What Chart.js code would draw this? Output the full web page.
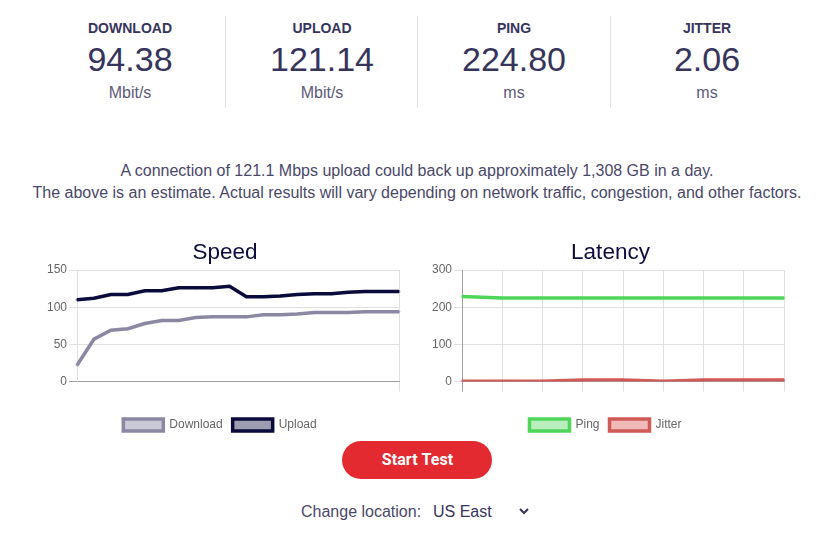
<!DOCTYPE html>
<html>
<head>
<meta charset="utf-8">
<script src="https://cdn.jsdelivr.net/npm/chart.js@4"></script>
<style>
html, body { margin: 0; padding: 0; background: #fff; }
body { width: 840px; height: 534px; position: relative; overflow: hidden; font-family: "Liberation Sans", Arial, sans-serif; color: #36345c; }
.stat { position: absolute; top: 16px; width: 192px; height: 92px; text-align: center; }
.stat + .stat { border-left: 1px solid #e2e2e6; }
.stat .name { position: absolute; left: 0; right: 0; top: 4px; font-size: 14px; font-weight: 700; line-height: 16px; }
.stat .num { position: absolute; left: 0; right: 0; top: 23px; font-size: 34px; line-height: 40px; }
.stat .unit { position: absolute; left: 0; right: 0; top: 68px; font-size: 16px; line-height: 18px; color: #5c5a7a; }
.note { position: absolute; left: 0; width: 834px; text-align: center; font-size: 16px; line-height: 22px; top: 160px; color: #4a4869; }
.box { position: absolute; top: 238px; height: 203px; }
#startBtn { position: absolute; left: 342px; top: 441px; width: 150px; height: 38px; border: 0; border-radius: 19px; background: #e32a30; color: #fff; font: 700 16px Roboto, sans-serif; padding: 0 0 2px 1px; letter-spacing: 0.1px; }
.loc { position: absolute; left: 301px; top: 503px; font-size: 16px; line-height: 18px; color: #4a4869; }
#locSel { position: absolute; left: 429px; top: 500px; width: 103px; height: 22px; border: 0; background: #fff; font: 16px "Liberation Sans", Arial, sans-serif; color: #36345c; padding: 0; }
</style>
</head>
<body>
<div class="stat" style="left:34px"><div class="name">DOWNLOAD</div><div class="num">94.38</div><div class="unit">Mbit/s</div></div>
<div class="stat" style="left:225px"><div class="name">UPLOAD</div><div class="num">121.14</div><div class="unit">Mbit/s</div></div>
<div class="stat" style="left:417px"><div class="name">PING</div><div class="num">224.80</div><div class="unit">ms</div></div>
<div class="stat" style="left:610px"><div class="name">JITTER</div><div class="num">2.06</div><div class="unit">ms</div></div>

<div class="note">A connection of 121.1 Mbps upload could back up approximately 1,308 GB in a day.<br>The above is an estimate. Actual results will vary depending on network traffic, congestion, and other factors.</div>

<div class="box" style="left:36px;width:368px"><canvas id="speedChart" width="368" height="203"></canvas></div>
<div class="box" style="left:422px;width:367px"><canvas id="latencyChart" width="367" height="203"></canvas></div>

<button id="startBtn">Start Test</button>
<div class="loc">Change location:</div>
<select id="locSel"><option>US East</option></select>

<script>
var speedLabels = ["", "", "", "", "", "", "", "", "", "", "", "", "", "", "", "", "", "", "", ""];
var downloadValues = [22, 57, 69, 71, 78, 82, 82, 86, 87, 87, 87, 90, 90, 91, 93, 93, 93, 94, 94, 94];
var uploadValues = [110, 112, 117, 117, 122, 122, 126, 126, 126, 128, 114, 114, 115, 117, 118, 118, 120, 121, 121, 121];
var speedTicks = [0, 50, 100, 150];

var latencyLabels = ["", "", "", "", "", "", "", "", ""];
var pingValues = [229, 225, 225, 225, 225, 225, 225, 225, 225];
var jitterValues = [1, 1, 1, 4, 4, 1, 4, 4, 4];
var latencyTicks = [0, 100, 200, 300];

var gridColor = '#e0e0e0';
var axisColor = '#a0a0a0';

// the title sits a little right of the legend in the original
var shiftTitle = {
    id: 'shiftTitle',
    afterLayout: function (chart) { chart.titleBlock.left += 10; }
};

function makeChart(id, title, labels, sets, yMax, ticks, yWidth, xGrid, yGrid, leftBorder) {
    return new Chart(document.getElementById(id).getContext("2d"), {
        type: 'line',
        data: { labels: labels, datasets: sets },
        plugins: [shiftTitle],
        options: {
            responsive: false,
            animation: false,
            plugins: {
                title: { display: true, text: title, color: '#0e0c3f', font: { family: '"Liberation Sans", Arial', size: 22.5, weight: 'normal' }, padding: { top: 1, bottom: 4 } },
                legend: { position: 'bottom', labels: { color: '#666', boxWidth: 40, font: { family: '"Liberation Sans", Arial', size: 12 } } }
            },
            scales: {
                x: {
                    afterFit: function (s) { s.height -= 3; },
                    grid: { color: xGrid, tickLength: 10 },
                    border: { color: axisColor }
                },
                y: {
                    min: 0, max: yMax,
                    afterFit: function (s) { s.width = yWidth; },
                    afterBuildTicks: function (s) { s.ticks = ticks.map(function (v) { return { value: v }; }); },
                    grid: { color: yGrid },
                    border: { color: leftBorder },
                    ticks: { color: '#666', padding: 2, font: { family: '"Liberation Sans", Arial', size: 12 } }
                }
            }
        }
    });
}

function lineSet(label, values, border, fill) {
    return { label: label, data: values, borderColor: border, backgroundColor: fill, borderWidth: 3.5, pointRadius: 1, pointBorderWidth: 1, pointBackgroundColor: fill, pointBorderColor: fill, fill: false, tension: 0 };
}

// speed chart
makeChart("speedChart", "Speed", speedLabels, [
    lineSet("Download", downloadValues, '#8a88a3', 'rgba(138,136,163,0.45)'),
    lineSet("Upload", uploadValues, '#0b0a3c', 'rgba(11,10,60,0.4)')
], 150, speedTicks, 41, function (c) {
    return c.index === speedLabels.length - 1 ? gridColor : 'rgba(0,0,0,0)';
}, function (c) {
    return c.tick.value === 0 ? axisColor : gridColor;
}, gridColor);

// latency chart
makeChart("latencyChart", "Latency", latencyLabels, [
    lineSet("Ping", pingValues, '#4fd65a', 'rgba(79,214,90,0.4)'),
    lineSet("Jitter", jitterValues, '#d05a56', 'rgba(217,83,79,0.4)')
], 300, latencyTicks, 40, function (c) {
    return c.index === 0 ? axisColor : gridColor;
}, gridColor, axisColor);
</script>
</body>
</html>
